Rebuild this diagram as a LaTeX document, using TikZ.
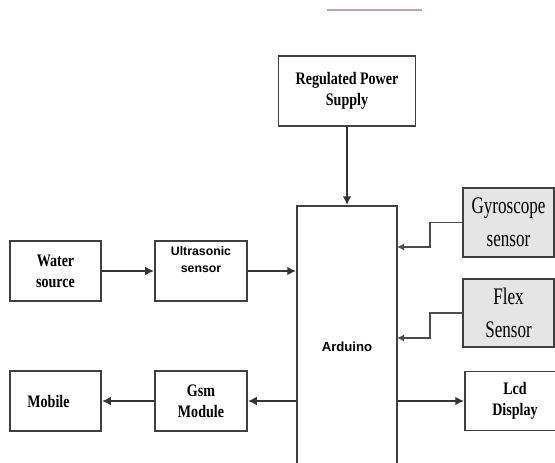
\documentclass[tikz,border=0pt]{standalone}
\usepackage{fontspec}
\newfontfamily\boxserif[FakeStretch=0.8]{Liberation Serif}
\newfontfamily\sensorserif[FakeStretch=0.72]{Liberation Serif}
\newfontfamily\boxsans{Liberation Sans}
\usetikzlibrary{arrows.meta, positioning}

\begin{document}
\begin{tikzpicture}[x=0.02cm, y=-0.02cm]
        \tikzstyle{block} = [rectangle, draw = black!75, line width = 1.1pt, inner sep = 0pt, align = center, font = \boxserif\bfseries\fontsize{10}{12}\selectfont]
        \tikzstyle{sensor} = [block, fill = black!10, font = \sensorserif\fontsize{13.5}{18.5}\selectfont]
        \tikzstyle{connect} = [-{Latex[length=5pt, width=5pt]}, line width = 1.1pt, draw = black!80]
        \tikzstyle{feed} = [-{Latex[length=4pt, width=4pt]}, line width = 0.7pt, draw = black!70]
        \useasboundingbox (0,0) rectangle (555,463);
        \draw[line width = 1.5pt, draw = {rgb,255:red,195;green,160;blue,195}] (327,10) -- (422,10);
        \node[block, minimum width = 137*0.02cm, minimum height = 70*0.02cm] (power) at (347,91) {Regulated Power\\Supply};
        \node[block, minimum width = 100*0.02cm, minimum height = 282*0.02cm, font = \boxsans\bfseries\fontsize{7.5}{9}\selectfont] (arduino) at (347,347) {Arduino};
        \node[block, minimum width = 91*0.02cm, minimum height = 60*0.02cm] (water) at (55.5,271) {Water\\source\hspace{8pt}};
        \node[block, minimum width = 92*0.02cm, minimum height = 60*0.02cm, font = \boxsans\bfseries\fontsize{7}{10}\selectfont] (ultra) at (201,271) {Ultrasonic\\sensor\\[3pt]};
        \node[block, minimum width = 91*0.02cm, minimum height = 60*0.02cm] (mobile) at (55.5,401) {Mobile\hspace{8pt}};
        \node[block, minimum width = 92*0.02cm, minimum height = 60*0.02cm] (gsm) at (201,401) {Gsm\\Module};
        \node[sensor, minimum width = 91*0.02cm, minimum height = 69*0.02cm] (gyro) at (508.5,222.5) {Gyroscope\\sensor};
        \node[sensor, minimum width = 91*0.02cm, minimum height = 68*0.02cm] (flex) at (508.5,313) {Flex\\Sensor};
        \node[block, minimum width = 100*0.02cm, minimum height = 59*0.02cm] (led) at (515,401) {Lcd\\Display};
        \coordinate (gyroin) at (397,247);
        \coordinate (flexin) at (397,338);
        \path (water.east) edge [connect] (ultra.west)
              (ultra.east) edge [connect] (ultra.east -| arduino.west)
              (power.south) edge [connect] (arduino.north)
              (gsm.east -| arduino.west) edge [connect] (gsm.east)
              (gsm.west) edge [connect] (mobile.east)
              (led.west -| arduino.east) edge [connect] (led.west);
        \draw[feed] (gyro.west) -- ++(-32,0) |- (gyroin);
        \draw[feed] (flex.west) -- ++(-32,0) |- (flexin);
      \end{tikzpicture}
\end{document}
